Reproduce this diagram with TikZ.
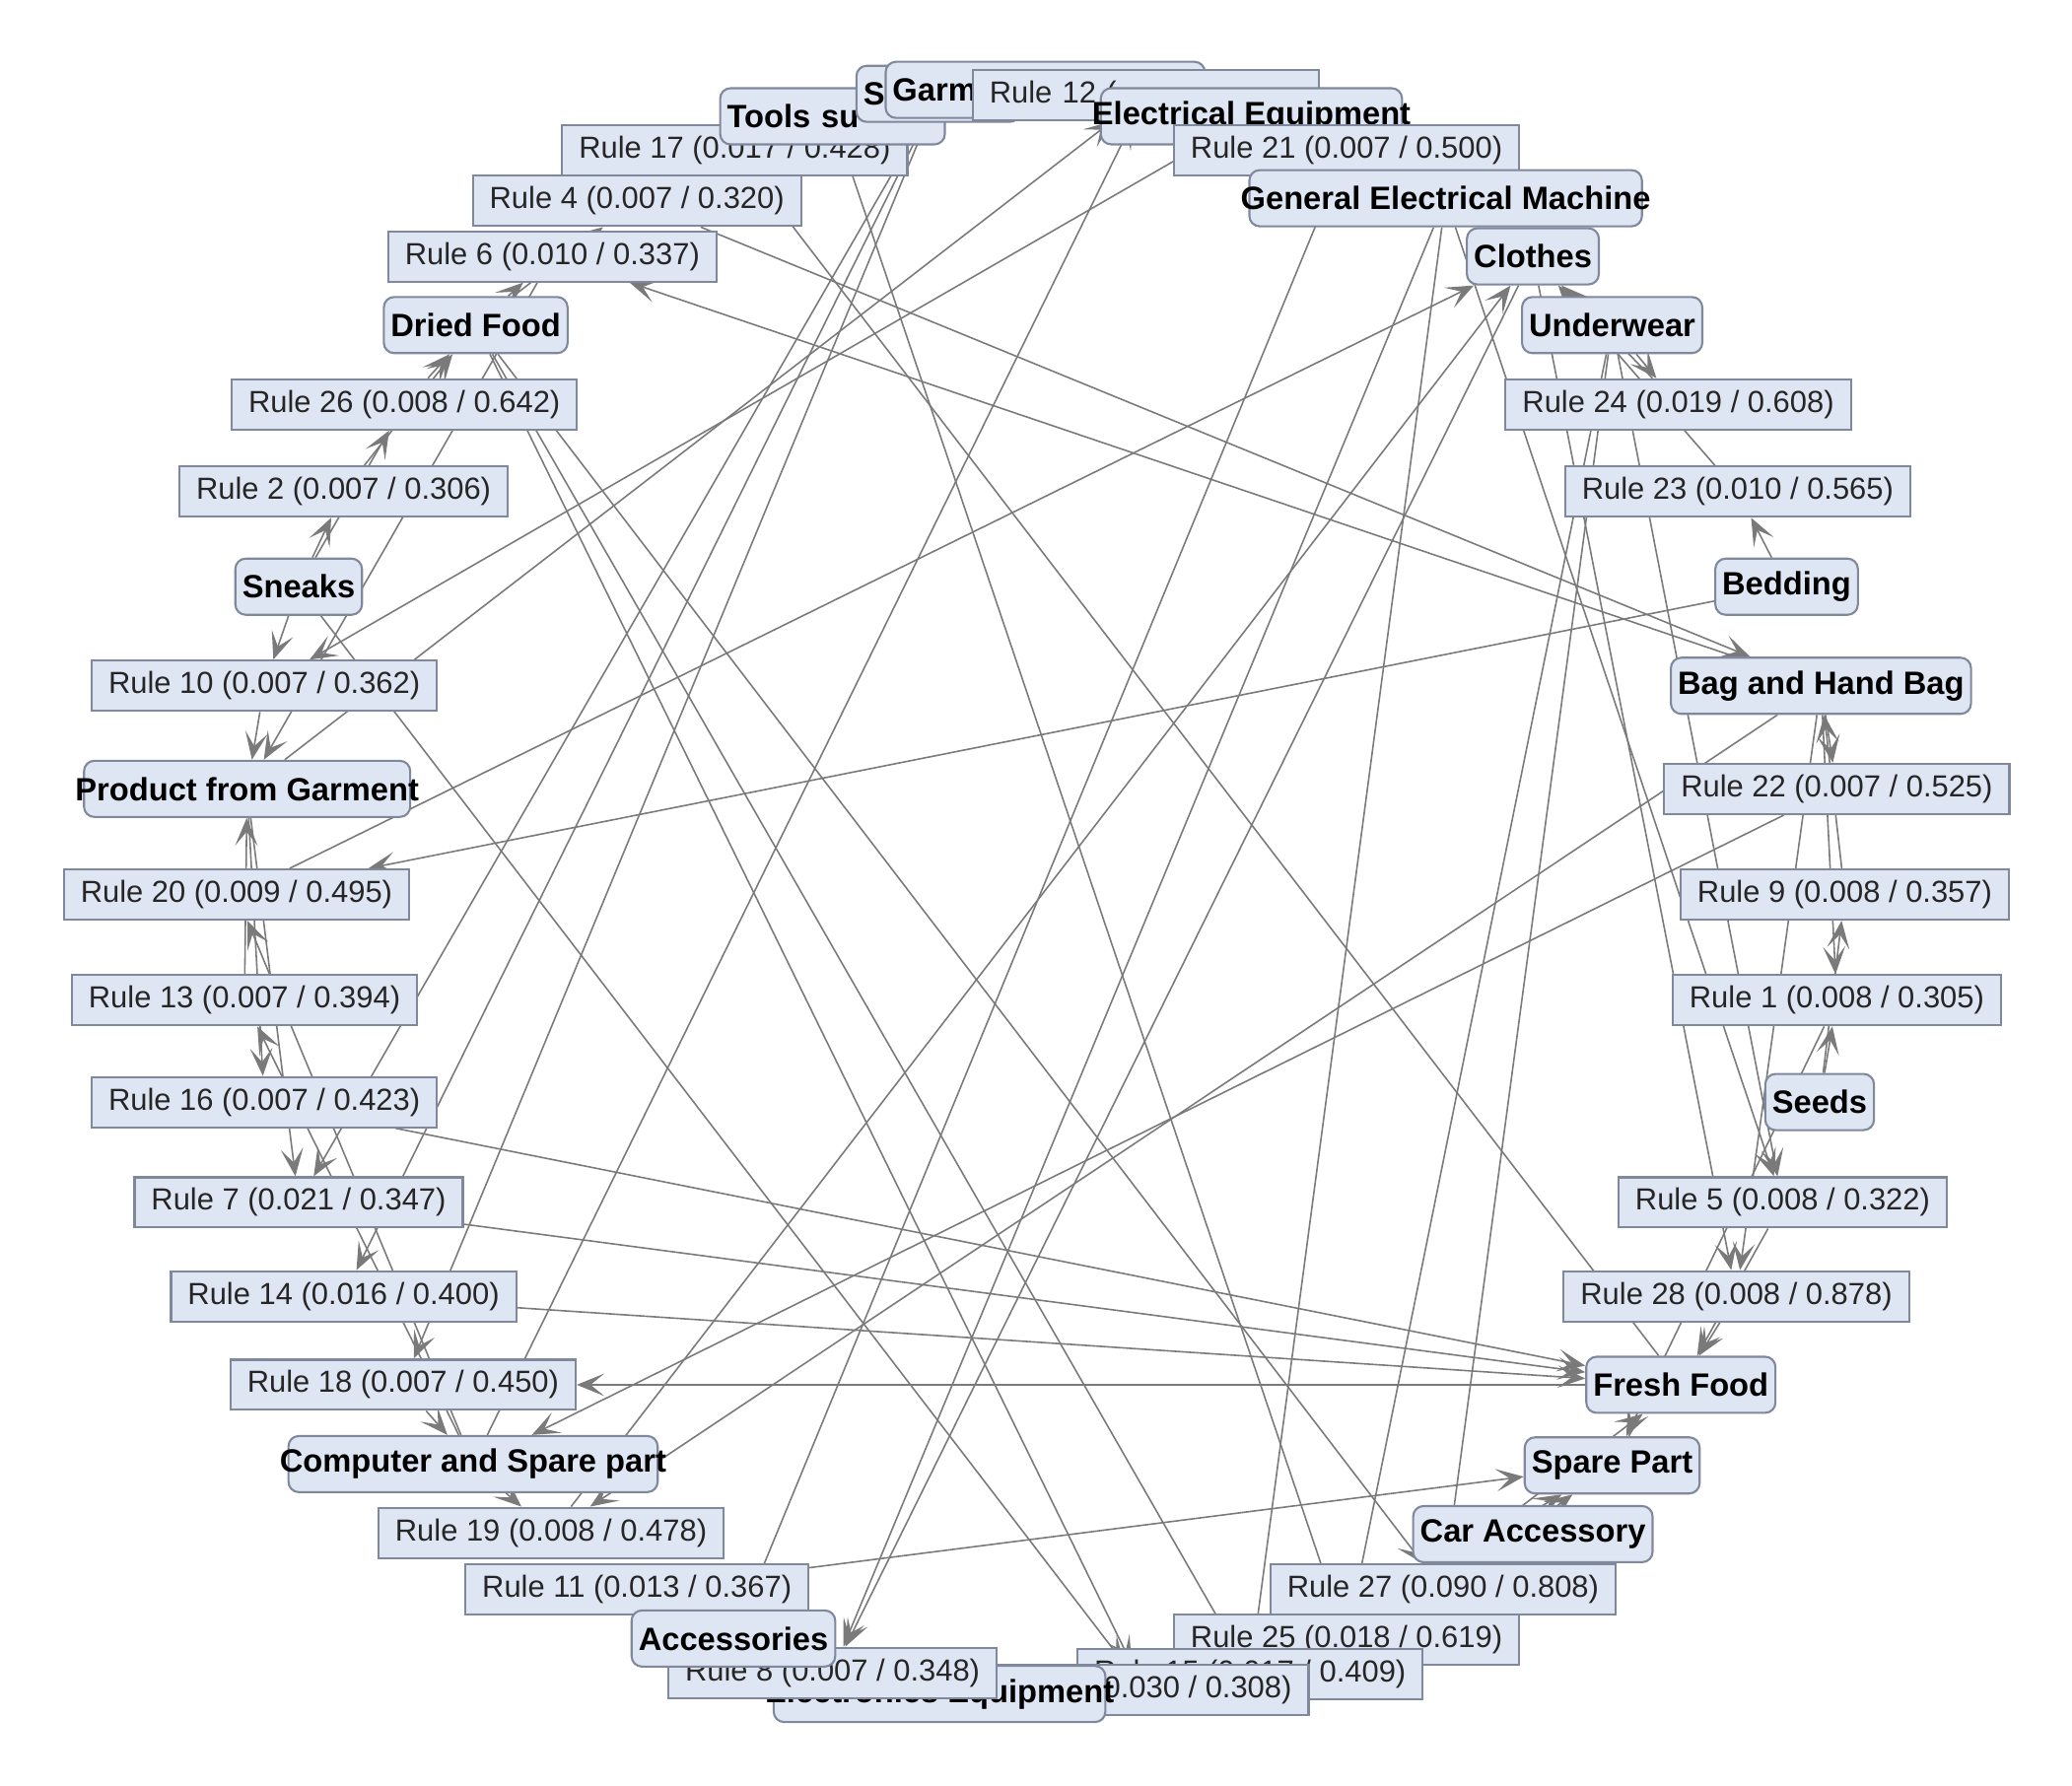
\documentclass[tikz,border=0pt]{standalone}
\usepackage{fontspec}
\setmainfont{Liberation Sans}
\usepackage{xcolor}
\usepackage{tikz}
\usetikzlibrary{arrows.meta, backgrounds}
\definecolor{bleuboite}{RGB}{222,229,243}
\definecolor{grisbord}{RGB}{128,136,156}
\definecolor{grislien}{RGB}{122,122,122}

\begin{document}
\begin{tikzpicture}[x=0.013406cm, y=-0.013406cm,
    regle/.style={draw=grisbord, fill=bleuboite, line width=0.6pt, minimum height=0.51cm,
      inner xsep=0.17cm, inner ysep=0pt, text=black!85, font=\fontsize{8.8}{10}\selectfont},
    objet/.style={draw=grisbord, fill=bleuboite, rounded corners=3pt, line width=0.6pt,
      minimum height=0.57cm, inner xsep=2pt, inner ysep=0pt, font=\fontsize{9.3}{11}\selectfont\bfseries},
    objetlong/.style={objet, inner xsep=-2.5pt},
    lien/.style={grislien, line width=0.45pt, -{Stealth[length=8pt, width=6.5pt, inset=4pt]}}]
    \useasboundingbox (0,0) rectangle (1568,1351);
    % haut
    \node[regle] (r17) at (556,114) {Rule 17 (0.017 / 0.428)};
    \node[objet, text width=2.14cm, align=left] (tools) at (630,88) {Tools su};
    \node[objet, text width=1.52cm, align=left] (se) at (710,71) {Se};
    \node[objet, text width=3.10cm, align=left] (garm) at (791,68) {Garm};
    \node[regle, text width=3.17cm, align=left] (r12) at (867,72) {Rule 12 (};
    \node[objetlong] (elec) at (947,88) {Electrical Equipment};
    \node[regle] (r21) at (1019,114) {Rule 21 (0.007 / 0.500)};
    \node[objetlong] (genelec) at (1094,150) {General Electrical Machine};
    % droite
    \node[objet] (clothes) at (1160,194) {Clothes};
    \node[objet] (under) at (1220,246) {Underwear};
    \node[regle] (r24) at (1270,306) {Rule 24 (0.019 / 0.608)};
    \node[regle] (r23) at (1315,372) {Rule 23 (0.010 / 0.565)};
    \node[objet] (bedding) at (1352,444) {Bedding};
    \node[objet] (bag) at (1378,519) {Bag and Hand Bag};
    \node[regle] (r22) at (1390,597) {Rule 22 (0.007 / 0.525)};
    \node[regle] (r9) at (1396,677) {Rule 9 (0.008 / 0.357)};
    \node[regle] (r1) at (1390,757) {Rule 1 (0.008 / 0.305)};
    \node[objet] (seeds) at (1377,834) {Seeds};
    \node[regle] (r5) at (1349,910) {Rule 5 (0.008 / 0.322)};
    \node[regle] (r28) at (1314,981) {Rule 28 (0.008 / 0.878)};
    \node[objet] (fresh) at (1272,1048) {Fresh Food};
    \node[objet] (spare) at (1220,1109) {Spare Part};
    \node[objet] (caracc) at (1160,1161) {Car Accessory};
    % bas
    \node[regle] (r11) at (482,1203) {Rule 11 (0.013 / 0.367)};
    \node[regle] (r27) at (1092,1203) {Rule 27 (0.090 / 0.808)};
    \node[regle] (r25) at (1019,1241) {Rule 25 (0.018 / 0.619)};
    \node[regle] (r15) at (946,1267) {Rule 15 (0.017 / 0.409)};
    \node[regle] (r3) at (866,1279) {Rule 3 (0.030 / 0.308)};
    \node[objetlong] (electro) at (711,1282) {Electronics Equipment};
    \node[regle] (r8) at (630,1266) {Rule 8 (0.007 / 0.348)};
    \node[objet] (access) at (555,1240) {Accessories};
    % gauche
    \node[regle] (r19) at (417,1160) {Rule 19 (0.008 / 0.478)};
    \node[objetlong] (computer) at (358,1108) {Computer and Spare part};
    \node[regle] (r18) at (305,1048) {Rule 18 (0.007 / 0.450)};
    \node[regle] (r14) at (260,981) {Rule 14 (0.016 / 0.400)};
    \node[regle] (r7) at (226,910) {Rule 7 (0.021 / 0.347)};
    \node[regle] (r16) at (200,834) {Rule 16 (0.007 / 0.423)};
    \node[regle] (r13) at (185,757) {Rule 13 (0.007 / 0.394)};
    \node[regle] (r20) at (179,677) {Rule 20 (0.009 / 0.495)};
    \node[objetlong] (product) at (187,597) {Product from Garment};
    \node[regle] (r10) at (200,519) {Rule 10 (0.007 / 0.362)};
    \node[objet] (sneaks) at (226,444) {Sneaks};
    \node[regle] (r2) at (260,372) {Rule 2 (0.007 / 0.306)};
    \node[regle] (r26) at (306,306) {Rule 26 (0.008 / 0.642)};
    \node[objet] (dried) at (360,246) {Dried Food};
    \node[regle] (r6) at (418,194) {Rule 6 (0.010 / 0.337)};
    \node[regle] (r4) at (482,152) {Rule 4 (0.007 / 0.320)};
    % liens, sous les boites
    \begin{scope}[on background layer]
      \draw[lien] (bag) -- (r1); \draw[lien] (seeds) -- (r1); \draw[lien] (r1) -- (spare);
      \draw[lien] (sneaks) -- (r2); \draw[lien] (r2) -- (dried);
      \draw[lien] (dried) -- (r3); \draw[lien] (sneaks) -- (r3); \draw[lien] (r3) -- (caracc);
      \draw[lien] (dried) -- (r4); \draw[lien] (r4) -- (bag);
      \draw[lien] (under) -- (r5); \draw[lien] (genelec) -- (r5); \draw[lien] (r5) -- (fresh);
      \draw[lien] (bag) -- (r6); \draw[lien] (dried) -- (r6); \draw[lien] (r6) -- (product);
      \draw[lien] (product) -- (r7); \draw[lien] (se) -- (r7); \draw[lien] (r7) -- (fresh);
      \draw[lien] (genelec) -- (r8); \draw[lien] (clothes) -- (r8); \draw[lien] (r8) -- (access);
      \draw[lien] (seeds) -- (r9); \draw[lien] (r9) -- (bag);
      \draw[lien] (sneaks) -- (r10); \draw[lien] (elec) -- (r10); \draw[lien] (r10) -- (product);
      \draw[lien] (access) -- (r11); \draw[lien] (r11) -- (spare);
      \draw[lien] (product) -- (r12); \draw[lien] (computer) -- (r12); \draw[lien] (r12) -- (garm);
      \draw[lien] (computer) -- (r13); \draw[lien] (r13) -- (product);
      \draw[lien] (se) -- (r14); \draw[lien] (r14) -- (fresh);
      \draw[lien] (dried) -- (r15); \draw[lien] (genelec) -- (r15); \draw[lien] (r15) -- (spare);
      \draw[lien] (product) -- (r16); \draw[lien] (r16) -- (fresh);
      \draw[lien] (fresh) -- (r17); \draw[lien] (r17) -- (tools);
      \draw[lien] (se) -- (r18); \draw[lien] (fresh) -- (r18); \draw[lien] (r18) -- (computer);
      \draw[lien] (computer) -- (r19); \draw[lien] (bag) -- (r19); \draw[lien] (r19) -- (clothes);
      \draw[lien] (computer) -- (r20); \draw[lien] (bedding) -- (r20); \draw[lien] (r20) -- (clothes);
      \draw[lien] (access) -- (r21); \draw[lien] (r21) -- (elec);
      \draw[lien] (bag) -- (r22); \draw[lien] (r22) -- (computer);
      \draw[lien] (bedding) -- (r23); \draw[lien] (r23) -- (clothes);
      \draw[lien] (under) -- (r24); \draw[lien] (r24) -- (clothes);
      \draw[lien] (tools) -- (r25); \draw[lien] (under) -- (r25); \draw[lien] (r25) -- (fresh);
      \draw[lien] (sneaks) -- (r26); \draw[lien] (r26) -- (dried);
      \draw[lien] (under) -- (r27); \draw[lien] (dried) -- (r27); \draw[lien] (r27) -- (spare);
      \draw[lien] (bag) -- (r28); \draw[lien] (clothes) -- (r28); \draw[lien] (r28) -- (fresh);
    \end{scope}
  \end{tikzpicture}
\end{document}
